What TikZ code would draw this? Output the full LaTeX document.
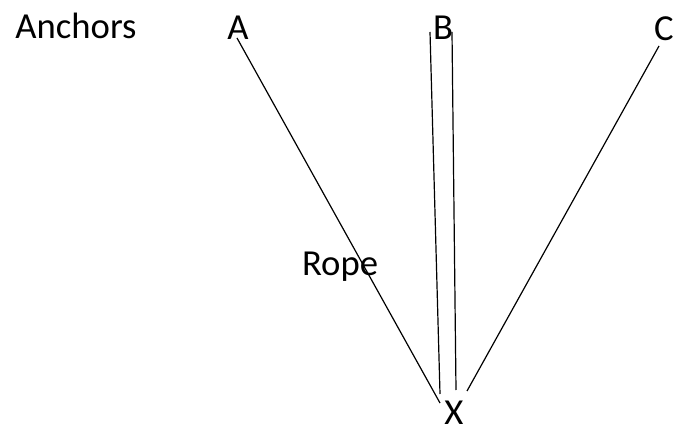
\documentclass[tikz,border=0pt]{standalone}
\usepackage{fontspec}
\setmainfont{Carlito}
\usetikzlibrary{positioning}

\begin{document}
\begin{tikzpicture}[x=0.75pt, y=-0.75pt,
  every node/.style={font=\fontsize{27.5}{33}\selectfont, inner sep=0pt, anchor=base},
  rope/.style={line width=0.9pt}]
  \useasboundingbox (0,0) rectangle (674,434);

  % labels
  \node (anchors) at (76,39) {Anchors};
  \node (A) at (238,40) {A};
  \node (B) at (443,40) {B};
  \node (C) at (664,41) {C};
  \node (X) at (454,424) {X};
  \node (ropelbl) at (340,276) {Rope};

  % rope ends
  \coordinate (a1) at (237,38);
  \coordinate (a2) at (440,403);
  \coordinate (b1) at (430,32);
  \coordinate (b2) at (440,394);
  \coordinate (b3) at (452,32);
  \coordinate (b4) at (456,390);
  \coordinate (c1) at (659,46);
  \coordinate (c2) at (467,391);

  \draw[rope] (a1) -- (a2);
  \draw[rope] (b1) -- (b2);
  \draw[rope] (b3) -- (b4);
  \draw[rope] (c1) -- (c2);
\end{tikzpicture}
\end{document}
